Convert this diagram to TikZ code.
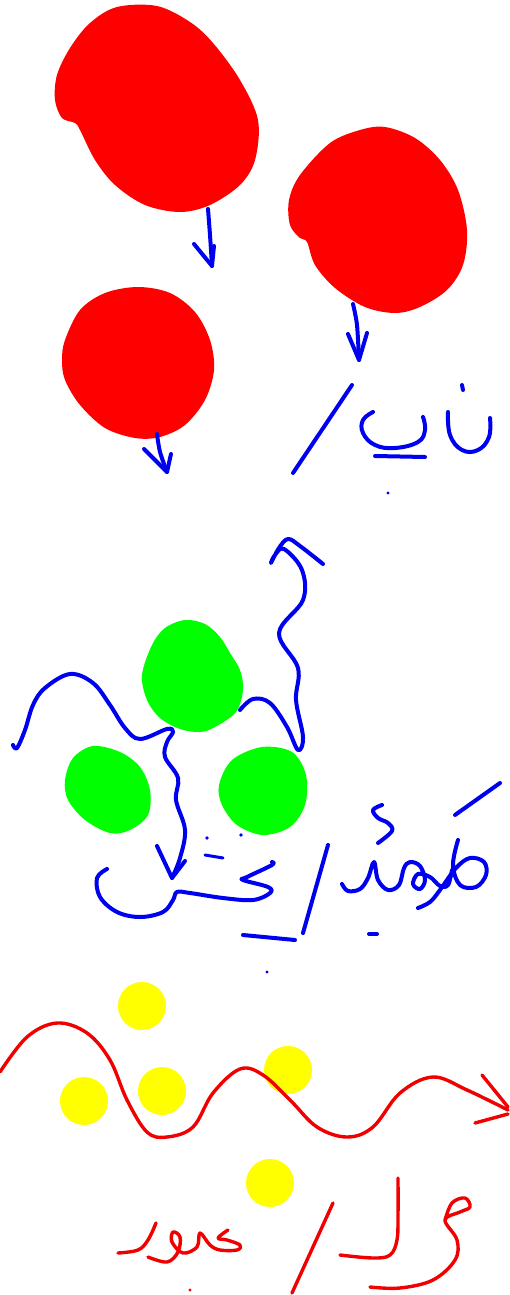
\documentclass[tikz,border=0pt]{standalone}
\begin{document}
\begin{tikzpicture}[x=1pt,y=-1pt,
  bpen/.style={draw={rgb,255:red,0;green,0;blue,240},line width=4pt,line cap=round,line join=round},
  rpen/.style={draw={rgb,255:red,240;green,0;blue,0},line width=3.4pt,line cap=round,line join=round},
  redblob/.style={fill={rgb,255:red,255;green,0;blue,0}},
  greenblob/.style={fill={rgb,255:red,0;green,255;blue,0}},
  yellowdot/.style={fill={rgb,255:red,255;green,255;blue,0}}]
\useasboundingbox (0,0) rectangle (510,1295);
\fill[white] (0,0) rectangle (510,1295);
% red blobs (solid)
\fill[redblob] plot[smooth cycle,tension=0.55] coordinates {(90,23) (117,7) (157,6) (190,22) (213,43) (240,80) (258,120) (255,160) (240,185) (210,205) (180,212) (145,205) (115,185) (95,160) (80,130) (75,123) (62,118) (55,100) (57,75) (70,48)};
\fill[redblob] plot[smooth cycle,tension=0.55] coordinates {(330,143) (360,130) (385,127) (415,138) (440,160) (458,190) (467,230) (463,265) (447,290) (420,307) (395,313) (365,307) (335,288) (315,265) (307,242) (300,238) (290,225) (289,200) (300,175)};
\fill[redblob] plot[smooth cycle,tension=0.55] coordinates {(65,340) (80,310) (105,293) (138,287) (170,293) (195,312) (210,340) (214,370) (205,400) (185,425) (160,437) (135,438) (105,428) (80,405) (65,380) (62,360)};
% arrows under red blobs
\draw[bpen] plot[smooth] coordinates {(208,209) (210,235) (212,266)};
\draw[bpen] (194,244) -- (212,266) -- (214,246);
\draw[bpen] plot[smooth] coordinates {(353,304) (357,325) (359,360)};
\draw[bpen] (348,334) -- (359,360) -- (367,333);
\draw[bpen] plot[smooth] coordinates {(157,434) (160,452) (167,472)};
\draw[bpen] (144,449) -- (167,472) -- (171,454);
% top blue text
\draw[bpen] (352,385) -- (293,473);
\draw[bpen] plot[smooth,tension=0.7] coordinates {(373,412) (363,420) (363,433) (375,445) (395,448) (418,442) (425,430) (423,417)};
\draw[bpen] (375,456) -- (425,457);
\fill[blue] (388,493) circle (1.6);
\draw[bpen] plot[smooth,tension=0.7] coordinates {(448,412) (450,435) (462,450) (478,450) (489,437) (490,418)};
\draw[bpen] (462,385) -- (463,390);
% green blobs (liquid)
\fill[greenblob] plot[smooth cycle,tension=0.55] coordinates {(185,620) (205,624) (220,637) (230,653) (240,670) (243,690) (236,712) (215,727) (200,732) (180,729) (160,718) (147,700) (142,675) (152,645) (165,628)};
\fill[greenblob] plot[smooth cycle,tension=0.55] coordinates {(65,780) (73,758) (93,746) (120,752) (140,767) (150,790) (148,815) (130,830) (110,833) (85,820) (68,800)};
\fill[greenblob] plot[smooth cycle,tension=0.55] coordinates {(219,785) (232,760) (262,747) (292,752) (306,775) (305,805) (290,827) (263,835) (237,825) (222,805)};
% blue wavy arrows
\draw[bpen] plot[smooth,tension=0.6] coordinates {(13,745) (17,748) (25,730) (33,705) (45,688) (70,674) (93,683) (110,705) (125,728) (140,739) (167,729) (173,732) (167,742) (165,757) (178,778) (176,800) (185,830) (180,858) (172,878)};
\draw[bpen] (157,846) -- (172,878) -- (185,861);
\draw[bpen] plot[smooth,tension=0.6] coordinates {(240,710) (253,699) (270,703) (287,727) (298,750) (303,737) (296,700) (298,668) (279,633) (303,600) (302,570) (284,549) (275,555) (271,563) (279,548) (288,539) (300,546) (323,564)};
% middle blue text
\draw[bpen] plot[smooth,tension=0.6] coordinates {(107,869) (97,878) (100,897) (117,912) (140,917) (163,912) (173,900) (177,892) (190,893) (223,898) (253,900) (270,893) (268,887) (243,880) (247,877) (272,865) (272,862)};
\fill[blue] (207,838) circle (1.8);
\fill[blue] (241,835) circle (1.8);
\draw[bpen,line width=3pt] (205,855) -- (223,858);
\draw[bpen] (328,845) -- (303,933);
\draw[bpen] (243,935) -- (295,940);
\fill[blue] (267,972) circle (1.6);
\draw[bpen] (369,934) -- (377,934);
\draw[bpen] (455,815) -- (500,783);
\draw[bpen] plot[smooth,tension=0.6] coordinates {(382,805) (373,810) (378,818) (388,823) (392,831) (378,843)};
\draw[bpen] plot[smooth,tension=0.6] coordinates {(342,884) (348,891) (360,889) (368,878) (374,862) (378,880) (388,890) (399,885) (404,868) (410,862) (420,866) (425,880) (420,889) (413,884) (418,874) (430,877) (440,886) (448,885) (452,870)};
\draw[bpen] plot[smooth,tension=0.6] coordinates {(458,840) (453,865) (460,885) (476,887) (486,875) (484,862) (470,858) (456,868) (440,890) (430,902) (418,908)};
% yellow dots (gas)
\fill[yellowdot] (142,1006) circle (24);
\fill[yellowdot] (84,1101) circle (24);
\fill[yellowdot] (162,1091) circle (24);
\fill[yellowdot] (288,1070) circle (24);
\fill[yellowdot] (270,1183) circle (24);
% red wave
\draw[rpen] plot[smooth,tension=0.6] coordinates {(0,1072) (27,1037) (57,1023) (87,1033) (110,1060) (127,1100) (147,1132) (167,1137) (193,1127) (213,1093) (240,1069) (263,1075) (290,1100) (317,1127) (347,1137) (373,1127) (400,1093) (433,1077) (467,1090) (508,1110)};
\draw[rpen] (482,1075) -- (508,1107);
\draw[rpen] (475,1123) -- (508,1114);
% red text
\draw[rpen] (333,1203) -- (292,1293);
\draw[rpen] plot[smooth,tension=0.6] coordinates {(398,1178) (398,1215) (397,1240) (390,1255) (373,1258) (340,1255)};
\draw[rpen] plot[smooth,tension=0.6] coordinates {(445,1220) (452,1203) (465,1198) (470,1207) (460,1212) (445,1220) (457,1240) (455,1260) (433,1280) (400,1288) (370,1287)};
\draw[rpen] plot[smooth,tension=0.6] coordinates {(156,1223) (148,1240) (138,1250) (118,1253)};
\draw[rpen] plot[smooth,tension=0.6] coordinates {(148,1257) (167,1262) (178,1252) (180,1237) (173,1232) (172,1242) (183,1253) (197,1247) (200,1233) (210,1245) (220,1250) (237,1250) (240,1245) (227,1240) (218,1238) (228,1230)};
\fill[red] (190,1290) circle (1.6);
\end{tikzpicture}
\end{document}
